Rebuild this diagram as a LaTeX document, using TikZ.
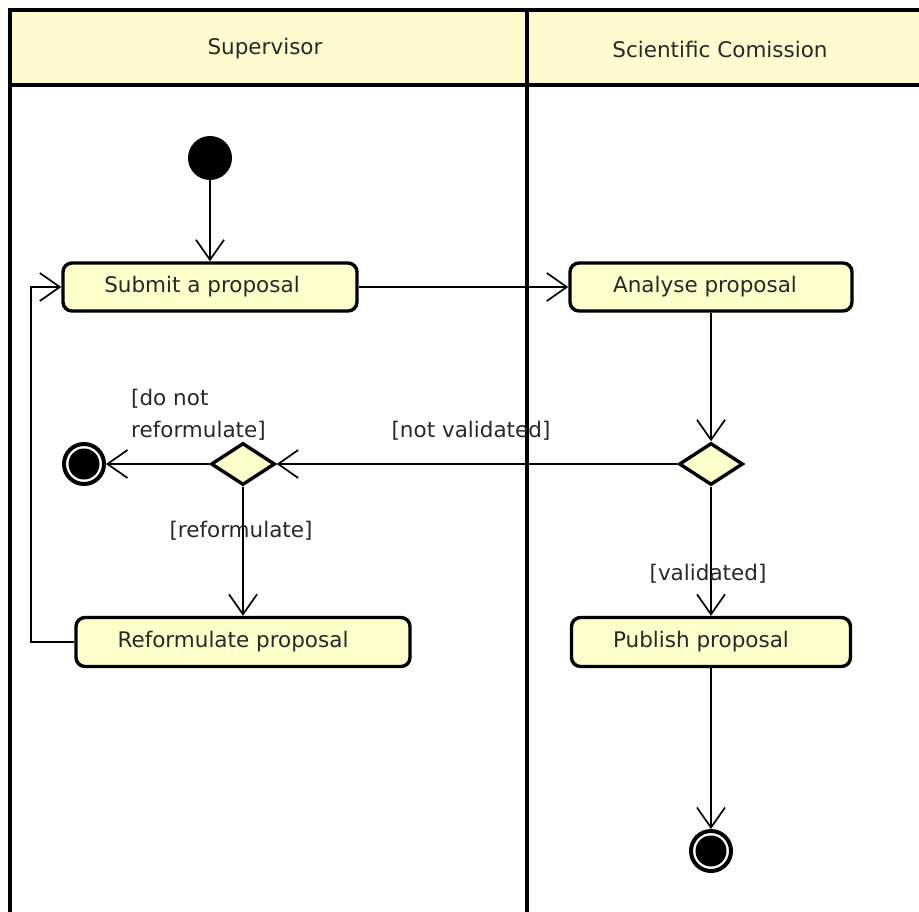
\documentclass[tikz,border=0pt]{standalone}
\usepackage{fontspec}
\setmainfont{DejaVu Sans}
\usetikzlibrary{arrows.meta,shapes.geometric}
\definecolor{lane}{RGB}{255,251,206}
\definecolor{act}{RGB}{255,255,204}
\definecolor{ink}{RGB}{40,40,40}
% caption inside an action box: lowered a little, with trailing space
\newcommand{\actcaption}[2]{\raisebox{-3pt}{#1}\hspace*{#2}}

\begin{document}
\begin{tikzpicture}[x=1pt,y=-1pt,
  font=\fontsize{21.5}{26}\selectfont,
  action/.style={draw=black, line width=3.4pt, fill=act, rounded corners=9pt,
    text=ink, inner sep=0pt},
  decision/.style={diamond, draw=black, line width=3.4pt, fill=act,
    minimum width=64pt, minimum height=42pt, inner sep=0pt},
  startdot/.style={circle, fill=black, minimum size=44pt, inner sep=0pt},
  enddot/.style={circle, draw=black, line width=4pt, minimum size=40pt,
    inner sep=0pt, path picture={\fill[black]
      (path picture bounding box.center) circle (15.5pt);}},
  flow/.style={draw=black, line width=1.7pt,
    -{Straight Barb[length=20pt,width=28pt,line width=1.7pt]}},
  guard/.style={text=ink, inner sep=0pt},
  lanebar/.style={draw=black, line width=3.4pt}
]
\useasboundingbox (0,0) rectangle (919,911);
\begin{scope}
\clip (0,0) rectangle (919,911);
% swimlane frame and headers
\fill[lane] (10,10) rectangle (930,85);
\draw[lanebar] (10,920) -- (10,10) -- (930,10);
\draw[lanebar] (10,85) -- (930,85);
\draw[lanebar] (527,10) -- (527,920);
\end{scope}
\node[text=ink] (hsup) at (265,49) {Supervisor};
\node[text=ink] (hsci) at (720,49) {Scientific Comission};

% activity nodes
\node[startdot] (start) at (210,158) {};
\node[action, minimum width=294pt, minimum height=48pt] (submit) at (210,287) {\actcaption{Submit a proposal}{16pt}};
\node[action, minimum width=282pt, minimum height=48pt] (analyse) at (711,287) {\actcaption{Analyse proposal}{12pt}};
\node[decision] (valid) at (711,464) {};
\node[decision] (again) at (243,464) {};
\node[enddot] (stopA) at (84,464) {};
\node[action, minimum width=334pt, minimum height=49pt] (reform) at (243,642) {\actcaption{Reformulate proposal}{20pt}};
\node[action, minimum width=279pt, minimum height=49pt] (publish) at (711,642) {\actcaption{Publish proposal}{20pt}};
\node[enddot] (stopB) at (711,851) {};

% control flows
\draw[flow] (start) -- (submit);
\draw[flow] (submit) -- (analyse);
\draw[flow] (analyse) -- (valid);
\draw[flow] (valid) -- (again);
\draw[flow] (again) -- (stopA);
\draw[flow] (again) -- (reform);
\draw[flow] (reform.west) -- ++(-43,0) |- (submit.west);
\draw[flow] (valid) -- (publish);
\draw[flow] (publish) -- (stopB);

% guards
\node[guard] (gnot) at (471,431) {[not validated]};
\node[guard, align=left, anchor=west, font=\fontsize{21.5}{32}\selectfont] (gdonot) at (131,415) {[do not\\reformulate]};
\node[guard] (gref) at (241,531) {[reformulate]};
\node[guard] (gval) at (708,574) {[validated]};
\end{tikzpicture}
\end{document}
